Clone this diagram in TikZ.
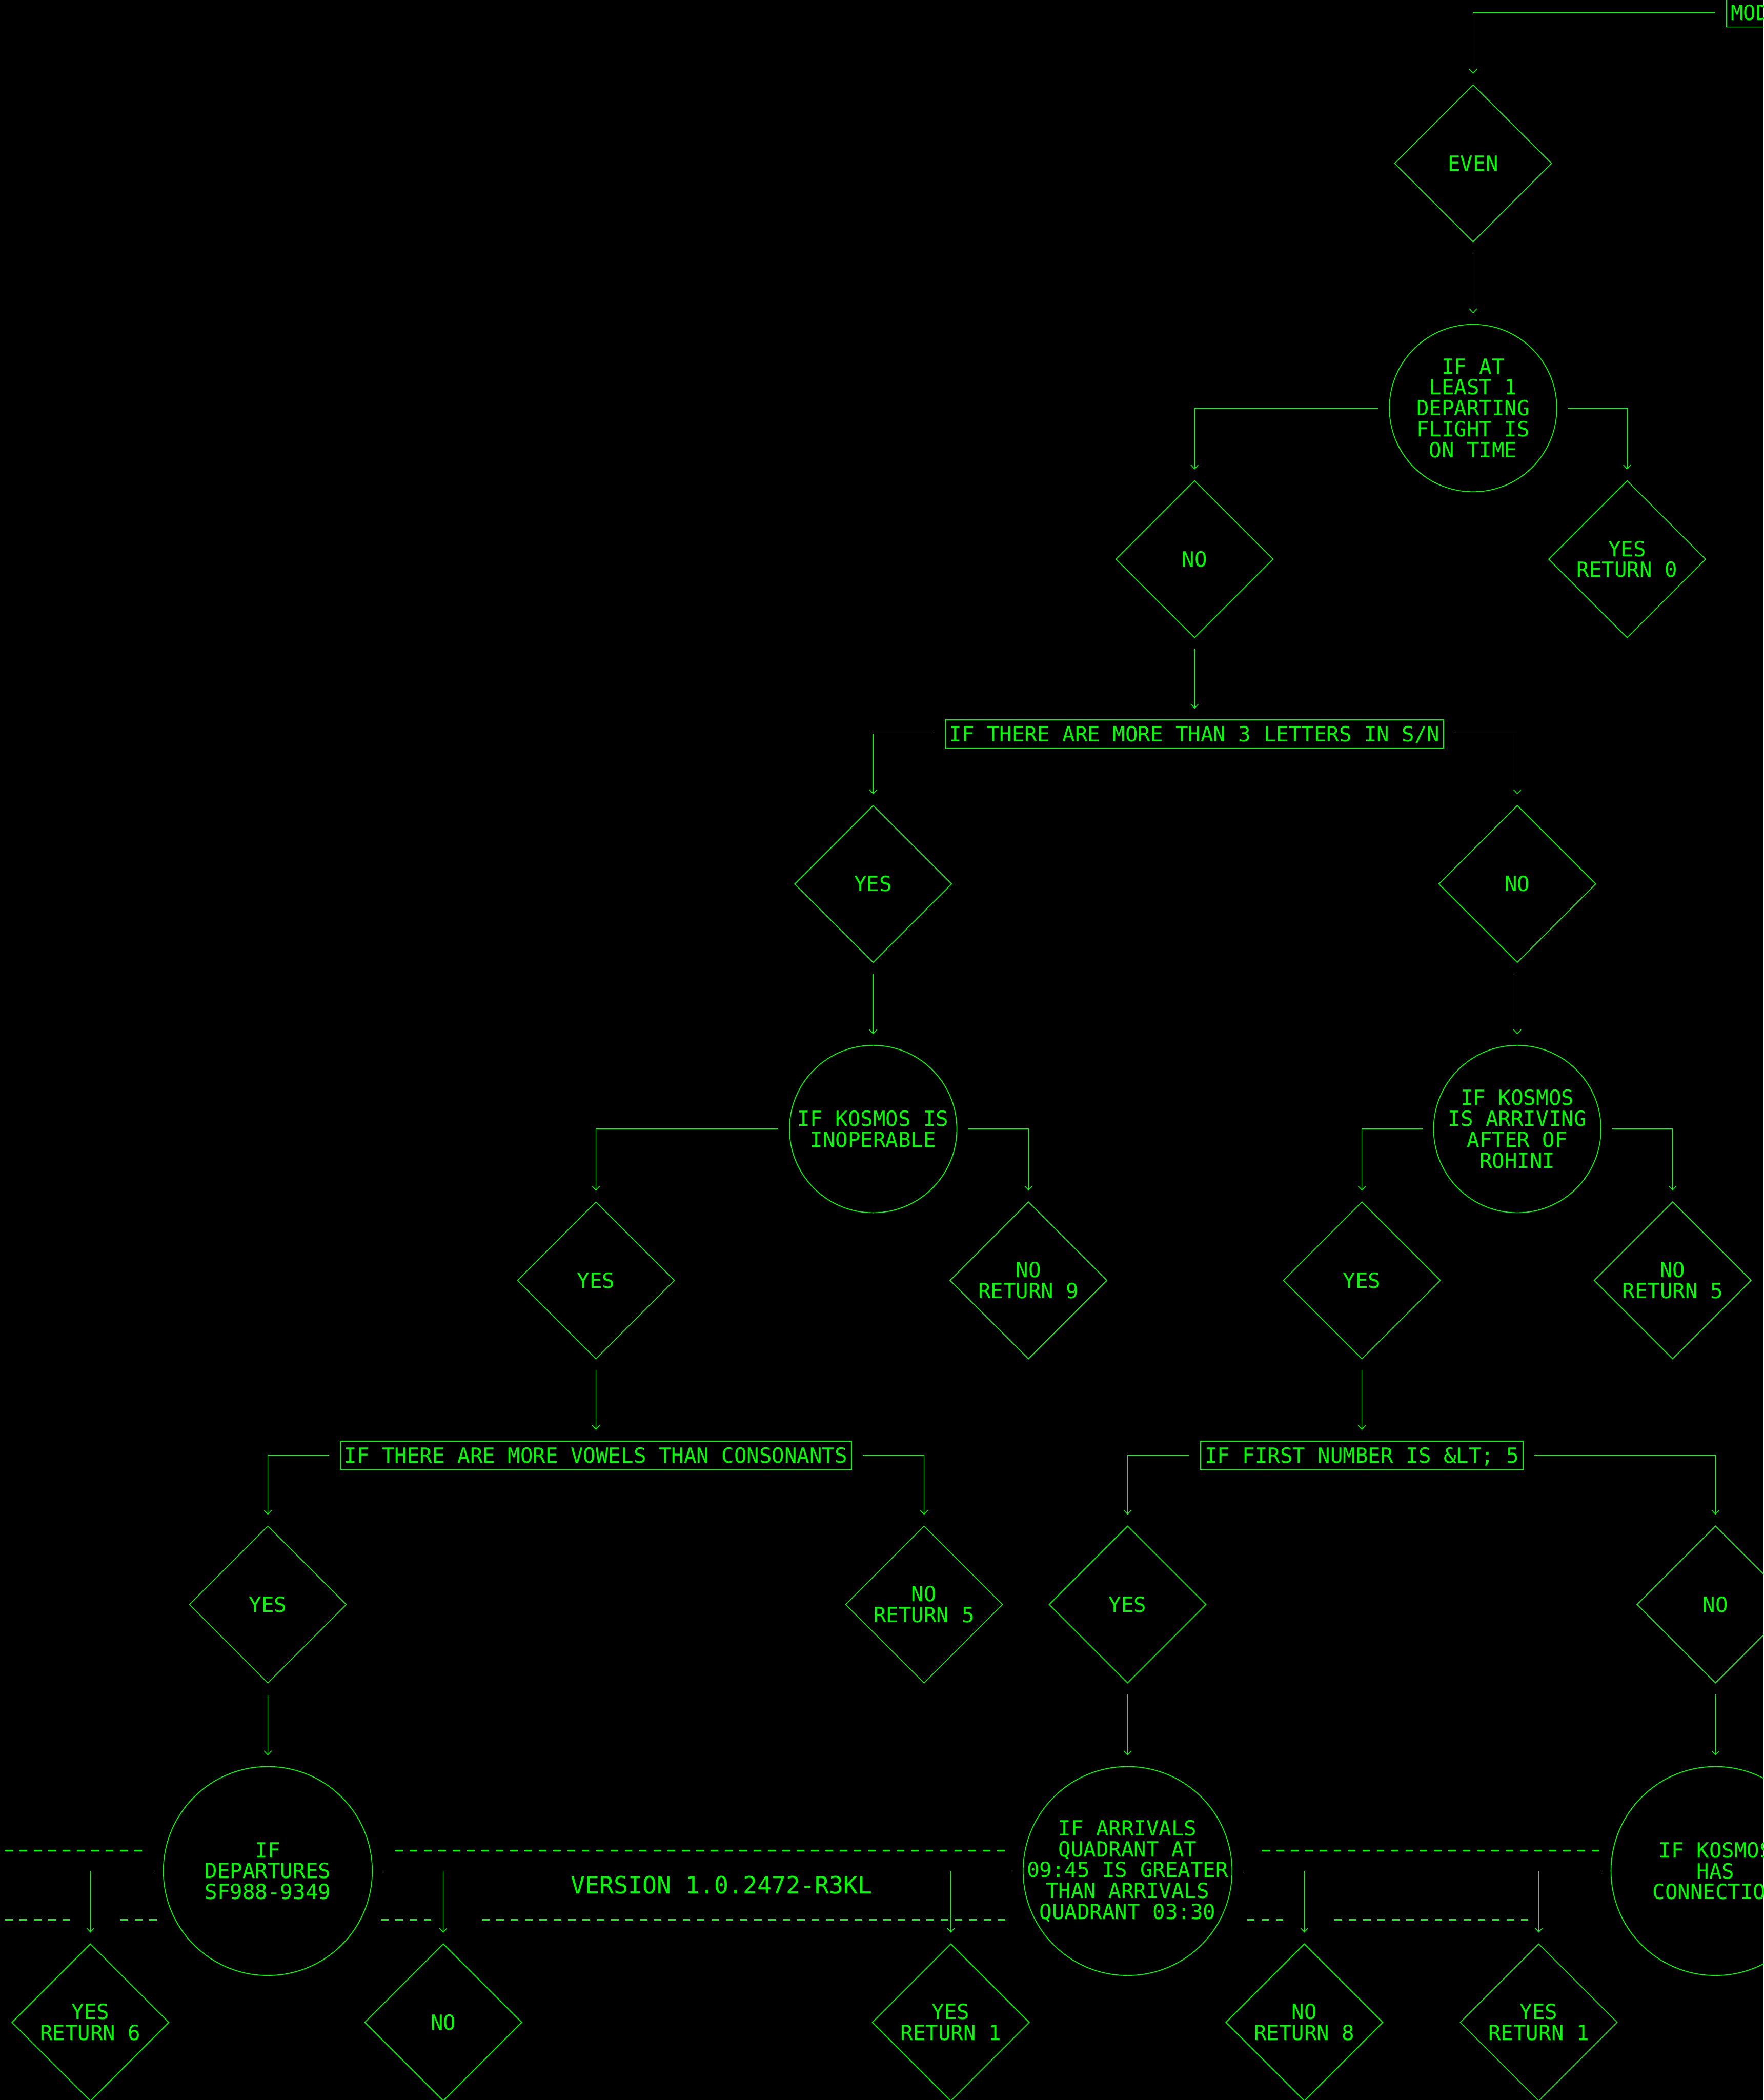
\documentclass[tikz,border=0pt]{standalone}
\usepackage{fontspec}
\setmonofont{DejaVu Sans Mono}
\usetikzlibrary{shapes.geometric,arrows.meta}
\definecolor{termgreen}{RGB}{0,255,0}

\begin{document}
\begin{tikzpicture}[
  x=1pt, y=-1pt,
  every node/.style={text=termgreen, font=\ttfamily\fontsize{15.6}{15.6}\selectfont, align=center},
  choice/.style={diamond, draw=termgreen, line width=0.65pt, inner sep=0pt, minimum size=117.4pt},
  test/.style={circle, draw=termgreen, line width=0.65pt, inner sep=0pt, minimum size=125pt},
  bigtest/.style={circle, draw=termgreen, line width=0.65pt, inner sep=-12pt, minimum size=156pt},
  cond/.style={rectangle, draw=termgreen, line width=0.75pt, inner xsep=3pt, inner ysep=0pt, text height=11.4pt, text depth=0pt, minimum height=21pt},
  arrow/.style={-{Straight Barb[length=3pt,width=5.6pt]}, draw=termgreen, line width=0.55pt, shorten <=8pt, shorten >=8pt},
  rule/.style={draw=termgreen, line width=1.2pt, dash pattern=on 5.6pt off 5.1pt}
]
\fill[black] (0,0) rectangle (1317,1568);
\useasboundingbox (0,0) rectangle (1317,1568);
\clip (0,0) rectangle (1317,1568);
\draw[rule] (4,1381.7) -- (106.2,1381.7);
\draw[rule] (295.3,1381.7) -- (754.8,1381.7);
\draw[rule] (942.5,1381.7) -- (1196.7,1381.7);
\draw[rule] (4,1433.4) -- (51.9,1433.4);
\draw[rule] (90,1433.4) -- (117,1433.4);
\draw[rule] (284.6,1433.4) -- (322,1433.4);
\draw[rule] (360,1433.4) -- (754.8,1433.4);
\draw[rule] (931.3,1433.4) -- (959,1433.4);
\draw[rule] (996.5,1433.4) -- (1142.3,1433.4);
\node[text height=13pt, text depth=0pt, font=\ttfamily\fontsize{17.8}{17.8}\selectfont] (version) at (538.7,1407.5) {VERSION 1.0.2472-R3KL};
\node[cond, anchor=west] (mode) at (1289,9.6) {MOD\phantom{E}};
\node[choice] (even) at (1100,122) {EVEN};
\node[test] (q1) at (1100,304.7) {IF AT\\LEAST 1\\DEPARTING\\FLIGHT IS\\ON TIME};
\node[choice] (n1) at (892,417.5) {NO};
\node[choice] (y0) at (1215,417.5) {YES\\RETURN 0};
\node[cond] (q2) at (892,548) {IF THERE ARE MORE THAN 3 LETTERS IN S/N};
\node[choice] (y2) at (652,660) {YES};
\node[choice] (n2) at (1133,660) {NO};
\node[test] (q3) at (652,843) {IF KOSMOS IS\\INOPERABLE};
\node[test] (q4) at (1133,843) {IF KOSMOS\\IS ARRIVING\\AFTER OF\\ROHINI};
\node[choice] (y3) at (445,956) {YES};
\node[choice] (n9) at (768,956) {NO\\RETURN 9};
\node[choice] (y4) at (1017,956) {YES};
\node[choice] (n5a) at (1249,956) {NO\\RETURN 5};
\node[cond] (q5) at (445,1086.5) {IF THERE ARE MORE VOWELS THAN CONSONANTS};
\node[cond] (q6) at (1017,1086.5) {IF FIRST NUMBER IS \&LT; 5};
\node[choice] (y5) at (200,1198) {YES};
\node[choice] (n5b) at (690,1198) {NO\\RETURN 5};
\node[choice] (y6) at (842,1198) {YES};
\node[choice] (n6) at (1281,1198) {NO};
\node[bigtest] (q7) at (200,1397) {IF\\DEPARTURES\\SF988-9349};
\node[bigtest] (q8) at (842,1397) {IF ARRIVALS\\QUADRANT AT\\09:45 IS GREATER\\THAN ARRIVALS\\QUADRANT 03:30};
\node[bigtest] (q9) at (1281,1397) {IF KOSMOS\\HAS\\CONNECTIO\phantom{N}};
\node[choice] (r6) at (67.5,1510) {YES\\RETURN 6};
\node[choice] (n7) at (331,1510) {NO};
\node[choice] (r1a) at (710,1510) {YES\\RETURN 1};
\node[choice] (r8) at (974,1510) {NO\\RETURN 8};
\node[choice] (r1b) at (1149,1510) {YES\\RETURN 1};
\draw[arrow] (mode.west) -| (even.north);
\draw[arrow] (even) -- (q1);
\draw[arrow] (q1.west) -| (n1.north);
\draw[arrow] (q1.east) -| (y0.north);
\draw[arrow] (n1) -- (q2);
\draw[arrow] (q2.west) -| (y2.north);
\draw[arrow] (q2.east) -| (n2.north);
\draw[arrow] (y2) -- (q3);
\draw[arrow] (n2) -- (q4);
\draw[arrow] (q3.west) -| (y3.north);
\draw[arrow] (q3.east) -| (n9.north);
\draw[arrow] (q4.west) -| (y4.north);
\draw[arrow] (q4.east) -| (n5a.north);
\draw[arrow] (y3) -- (q5);
\draw[arrow] (y4) -- (q6);
\draw[arrow] (q5.west) -| (y5.north);
\draw[arrow] (q5.east) -| (n5b.north);
\draw[arrow] (q6.west) -| (y6.north);
\draw[arrow] (q6.east) -| (n6.north);
\draw[arrow] (y5) -- (q7);
\draw[arrow] (y6) -- (q8);
\draw[arrow] (n6) -- (q9);
\draw[arrow] (q7.west) -| (r6.north);
\draw[arrow] (q7.east) -| (n7.north);
\draw[arrow] (q8.west) -| (r1a.north);
\draw[arrow] (q8.east) -| (r8.north);
\draw[arrow] (q9.west) -| (r1b.north);
\end{tikzpicture}
\end{document}
